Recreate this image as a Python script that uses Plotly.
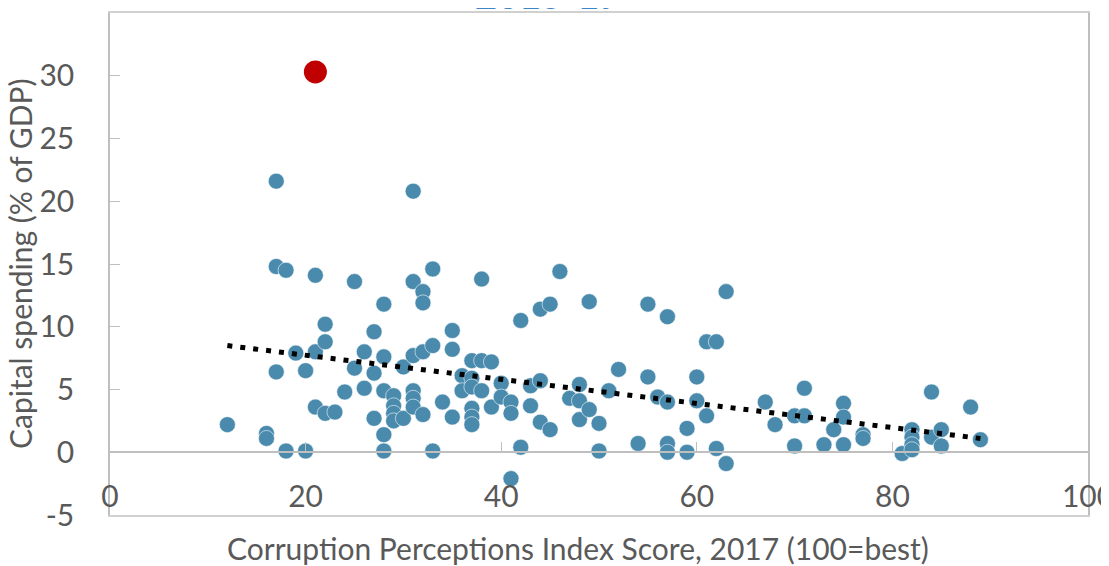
import plotly.graph_objects as go

# CPI score (x) and capital spending % of GDP (y)
cpi = [12, 16, 16, 17, 17, 18, 17, 18, 19, 20, 20, 21, 21, 21, 22, 22, 22, 23, 24,
       25, 25, 26, 26, 27, 27, 27, 28, 28, 28, 28, 28, 29, 29, 29, 29, 30, 30,
       31, 31, 31, 31, 31, 31, 32, 32, 32, 32, 33, 33, 33, 34, 35, 35, 35, 36, 36,
       37, 37, 37, 37, 37, 37, 38, 38, 38, 39, 39, 40, 40, 41, 41, 41, 42, 42,
       43, 43, 44, 44, 44, 45, 45, 46, 47, 48, 48, 48, 49, 49, 50, 50, 51, 52,
       54, 55, 55, 56, 57, 57, 57, 57, 59, 59, 60, 60, 61, 61, 62, 62, 63, 63,
       67, 68, 70, 70, 71, 71, 73, 74, 75, 75, 75, 77, 77, 81, 82, 82, 82, 82,
       84, 84, 85, 85, 88, 89]
capex = [2.2, 1.5, 1.1, 21.6, 14.8, 14.5, 6.4, 0.1, 7.9, 6.5, 0.1, 14.1, 8.0, 3.6, 10.2, 8.8, 3.1, 3.2, 4.8,
         13.6, 6.7, 8.0, 5.1, 9.6, 6.3, 2.7, 11.8, 7.6, 4.9, 1.4, 0.1, 4.5, 3.7, 3.1, 2.5, 6.8, 2.7,
         20.8, 13.6, 7.7, 4.9, 4.3, 3.6, 12.8, 11.9, 8.0, 3.0, 14.6, 8.5, 0.1, 4.0, 9.7, 8.2, 2.8, 6.1, 4.9,
         7.3, 5.9, 5.2, 3.5, 2.8, 2.2, 13.8, 7.3, 4.9, 7.2, 3.6, 5.5, 4.4, 4.0, 3.1, -2.1, 10.5, 0.4,
         5.3, 3.7, 5.7, 11.4, 2.4, 11.8, 1.8, 14.4, 4.3, 5.4, 4.1, 2.6, 12.0, 3.4, 2.3, 0.1, 4.9, 6.6,
         0.7, 11.8, 6.0, 4.4, 10.8, 4.0, 0.7, 0.0, 1.9, 0.0, 6.0, 4.1, 8.8, 2.9, 8.8, 0.3, 12.8, -0.9,
         4.0, 2.2, 2.9, 0.5, 5.1, 2.9, 0.6, 1.8, 3.9, 2.8, 0.6, 1.4, 1.1, -0.1, 1.8, 1.2, 0.6, 0.2,
         4.8, 1.2, 1.8, 0.5, 3.6, 1.0]

# highlighted country
hl_cpi = [21]
hl_capex = [30.3]

# linear trend end points
trend_x = [12, 89]
trend_y = [8.5, 1.1]

# axis ticks
x_ticks = [0, 20, 40, 60, 80, 100]
y_ticks = [-5, 0, 5, 10, 15, 20, 25, 30, 35]
y_ticklabels = ["-5", "0", "5", "10", "15", "20", "25", "30", "35"]

grey = "#595959"
axis_grey = "#BFBFBF"
font = "Lato"
fs = 30

fig = go.Figure()

fig.add_trace(go.Scatter(
    x=cpi, y=capex, mode="markers",
    marker=dict(size=16, color="#4A8BAD", line=dict(width=0.8, color="rgba(255,255,255,0.7)")),
    showlegend=False, hoverinfo="x+y"))

fig.add_trace(go.Scatter(
    x=trend_x, y=trend_y, mode="lines", xaxis="x2",
    line=dict(color="black", width=5, dash="5px,8px"),
    showlegend=False, hoverinfo="skip"))

fig.add_trace(go.Scatter(
    x=hl_cpi, y=hl_capex, mode="markers",
    marker=dict(size=23, color="#C00000"),
    showlegend=False, hoverinfo="x+y"))

# page body adds an 8px offset, so the figure is a bit smaller than the window
fig.update_layout(
    width=1101, height=558,
    margin=dict(l=102, r=21, t=5, b=51, autoexpand=False),
    plot_bgcolor="white", paper_bgcolor="white",
    font=dict(family=font, color=grey, size=fs),
    xaxis=dict(range=[0, 100], tickvals=x_ticks, showgrid=False, zeroline=False,
               automargin=False,
               showline=True, mirror=True, linecolor="#D0D0D0", linewidth=1.5,
               ticks="", ticklabelposition="inside", ticklabeloverflow="allow",
               ticklabelstandoff=5, tickfont=dict(size=fs, color=grey)),
    xaxis2=dict(range=[0, 100], tickvals=x_ticks, overlaying="x", anchor="free", position=0.125,
                side="bottom", showgrid=False, zeroline=False, showline=True,
                linecolor=axis_grey, linewidth=1.5, ticks="inside", ticklen=10,
                tickcolor=axis_grey, showticklabels=False),
    yaxis=dict(range=[-5, 35], tickvals=y_ticks, ticktext=y_ticklabels,
               showgrid=False, zeroline=False, automargin=False,
               showline=True, mirror=True, linecolor=axis_grey, linewidth=1.5,
               ticks="inside", ticklen=10, tickcolor=axis_grey,
               ticklabelstandoff=28, tickfont=dict(size=fs, color=grey)),
)

fig.add_annotation(text="Corruption Perceptions Index Score, 2017 (100=best)",
                   xref="paper", yref="paper", x=0.4785, y=-0.066,
                   xanchor="center", yanchor="middle", showarrow=False,
                   font=dict(size=fs, color=grey))
fig.add_annotation(text="Capital spending (% of GDP)", textangle=-90,
                   xref="paper", yref="paper", x=-0.092, y=0.5,
                   xanchor="center", yanchor="middle", showarrow=False,
                   font=dict(size=fs, color=grey))
# chart title, mostly cut off at the top edge in the source
fig.add_annotation(text="<b>2015-17</b>", xref="paper", yref="paper",
                   x=0.448, y=0.988, xanchor="center", yanchor="bottom",
                   showarrow=False, font=dict(size=38, color="#3D85C6"))

fig.write_html("out.html")
